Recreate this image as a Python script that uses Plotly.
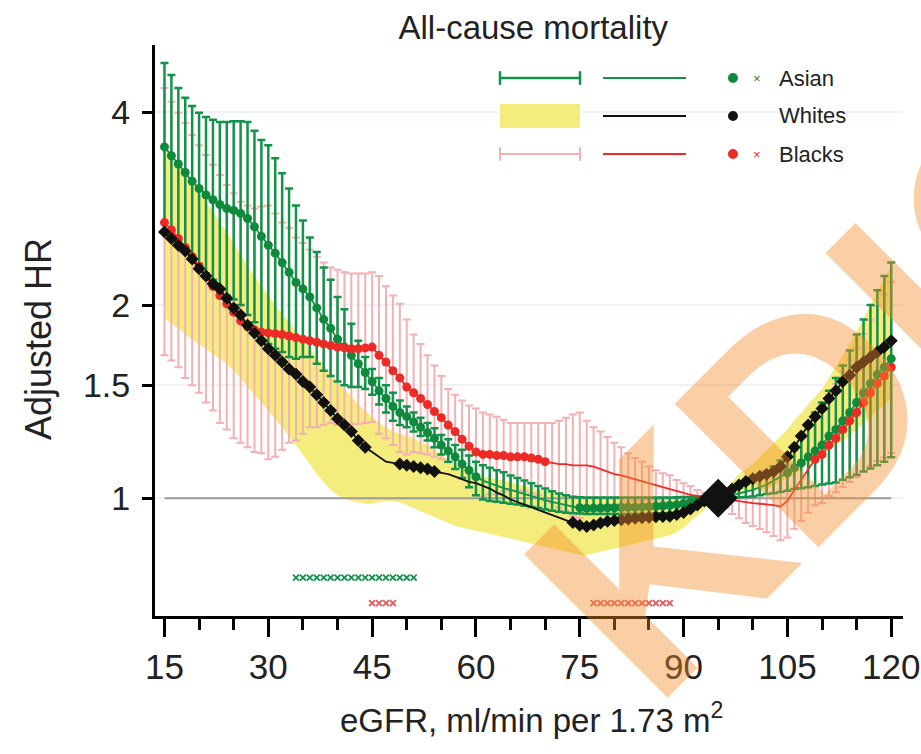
import plotly.graph_objects as go

# eGFR grid (ml/min per 1.73 m2)
EGFR = list(range(15, 121))

# Adjusted hazard ratios with 95% CI, one value per eGFR unit
ASIAN_HR = [
    3.53, 3.42, 3.32, 3.22, 3.12, 3.04, 2.97, 2.92, 2.87, 2.83,
    2.81, 2.78, 2.73, 2.65, 2.56, 2.48, 2.41, 2.33, 2.25, 2.17,
    2.12, 2.06, 1.98, 1.90, 1.84, 1.77, 1.72, 1.67, 1.62, 1.57,
    1.52, 1.47, 1.43, 1.39, 1.36, 1.34, 1.315, 1.29, 1.265, 1.24,
    1.21, 1.185, 1.16, 1.13, 1.105, 1.08, 1.065, 1.055, 1.045, 1.037,
    1.03, 1.022, 1.015, 1.007, 1.0, 0.993, 0.987, 0.981, 0.975, 0.97,
    0.966, 0.964, 0.965, 0.965, 0.966, 0.966, 0.967, 0.968, 0.968, 0.969,
    0.97, 0.971, 0.972, 0.974, 0.976, 0.98, 0.985, 0.99, 0.994, 0.997,
    1.0, 1.005, 1.01, 1.016, 1.022, 1.03, 1.04, 1.05, 1.065, 1.08,
    1.095, 1.115, 1.135, 1.16, 1.185, 1.21, 1.25, 1.28, 1.32, 1.36,
    1.41, 1.46, 1.51, 1.56, 1.60, 1.65,
]
ASIAN_LO = [
    2.61, 2.56, 2.53, 2.46, 2.38, 2.32, 2.24, 2.19, 2.13, 2.07,
    2.04, 2.00, 1.93, 1.88, 1.81, 1.74, 1.71, 1.69, 1.66, 1.65,
    1.66, 1.66, 1.62, 1.58, 1.55, 1.52, 1.50, 1.49, 1.49, 1.48,
    1.45, 1.40, 1.36, 1.32, 1.30, 1.29, 1.27, 1.25, 1.23, 1.20,
    1.17, 1.14, 1.11, 1.075, 1.04, 1.01, 0.995, 0.99, 0.987, 0.984,
    0.98, 0.977, 0.973, 0.969, 0.965, 0.96, 0.956, 0.952, 0.949, 0.947,
    0.946, 0.945, 0.945, 0.945, 0.945, 0.945, 0.945, 0.945, 0.945, 0.945,
    0.945, 0.946, 0.947, 0.948, 0.95, 0.955, 0.962, 0.97, 0.978, 0.99,
    1.0, 1.0, 1.002, 1.003, 1.004, 1.006, 1.01, 1.015, 1.018, 1.022,
    1.027, 1.033, 1.036, 1.04, 1.045, 1.05, 1.054, 1.058, 1.068, 1.078,
    1.088, 1.10, 1.112, 1.125, 1.14, 1.158,
]
ASIAN_HI = [
    4.77, 4.57, 4.36, 4.21, 4.09, 3.99, 3.93, 3.89, 3.86, 3.86,
    3.87, 3.87, 3.86, 3.74, 3.62, 3.55, 3.39, 3.21, 3.04, 2.86,
    2.71, 2.55, 2.42, 2.29, 2.19, 2.06, 1.97, 1.87, 1.76, 1.66,
    1.59, 1.54, 1.50, 1.46, 1.42, 1.39, 1.36, 1.335, 1.31, 1.285,
    1.255, 1.235, 1.21, 1.19, 1.165, 1.14, 1.125, 1.115, 1.105, 1.097,
    1.085, 1.075, 1.065, 1.055, 1.045, 1.035, 1.025, 1.017, 1.01, 1.005,
    1.003, 1.002, 1.002, 1.002, 1.002, 1.002, 1.002, 1.002, 1.002, 1.002,
    1.002, 1.002, 1.002, 1.002, 1.003, 1.004, 1.004, 1.005, 1.005, 1.003,
    1.0, 1.012, 1.022, 1.038, 1.052, 1.068, 1.085, 1.10, 1.12, 1.145,
    1.17, 1.205, 1.25, 1.30, 1.36, 1.41, 1.47, 1.54, 1.61, 1.70,
    1.80, 1.90, 2.00, 2.11, 2.22, 2.33,
]

WHITE_HR = [
    2.60, 2.54, 2.48, 2.43, 2.36, 2.28, 2.22, 2.16, 2.12, 2.05,
    1.98, 1.93, 1.86, 1.81, 1.76, 1.71, 1.67, 1.63, 1.59, 1.56,
    1.52, 1.49, 1.45, 1.41, 1.37, 1.33, 1.30, 1.27, 1.23, 1.20,
    1.18, 1.16, 1.14, 1.135, 1.13, 1.125, 1.12, 1.115, 1.11, 1.10,
    1.095, 1.09, 1.08, 1.07, 1.06, 1.055, 1.045, 1.035, 1.02, 1.01,
    0.995, 0.985, 0.977, 0.968, 0.959, 0.95, 0.942, 0.934, 0.925, 0.916,
    0.907, 0.903, 0.908, 0.915, 0.92, 0.923, 0.925, 0.928, 0.93, 0.932,
    0.934, 0.935, 0.936, 0.937, 0.943, 0.95, 0.962, 0.976, 0.99, 0.996,
    1.0, 1.018, 1.033, 1.048, 1.062, 1.072, 1.082, 1.09, 1.10, 1.12,
    1.16, 1.20, 1.25, 1.30, 1.34, 1.38, 1.43, 1.47, 1.52, 1.555,
    1.60, 1.63, 1.66, 1.69, 1.72, 1.76,
]
WHITE_LO = [
    1.91, 1.87, 1.84, 1.80, 1.77, 1.74, 1.71, 1.68, 1.65, 1.62,
    1.58, 1.54, 1.49, 1.45, 1.41, 1.37, 1.33, 1.29, 1.25, 1.21,
    1.17, 1.13, 1.09, 1.06, 1.03, 1.01, 1.00, 0.99, 0.985, 0.98,
    0.98, 0.985, 0.99, 0.99, 0.985, 0.975, 0.965, 0.955, 0.945, 0.935,
    0.925, 0.915, 0.905, 0.90, 0.895, 0.89, 0.885, 0.88, 0.875, 0.87,
    0.865, 0.86, 0.855, 0.85, 0.845, 0.84, 0.835, 0.83, 0.825, 0.82,
    0.815, 0.815, 0.82, 0.825, 0.83, 0.835, 0.84, 0.845, 0.85, 0.855,
    0.86, 0.865, 0.87, 0.875, 0.885, 0.90, 0.92, 0.94, 0.96, 0.98,
    1.0, 1.005, 1.01, 1.015, 1.02, 1.025, 1.03, 1.035, 1.045, 1.06,
    1.075, 1.09, 1.11, 1.13, 1.15, 1.17, 1.19, 1.21, 1.23, 1.25,
    1.28, 1.31, 1.34, 1.37, 1.40, 1.43,
]
WHITE_HI = [
    3.49, 3.40, 3.30, 3.20, 3.10, 3.00, 2.90, 2.80, 2.70, 2.60,
    2.50, 2.40, 2.30, 2.22, 2.14, 2.07, 2.00, 1.94, 1.88, 1.82,
    1.76, 1.71, 1.66, 1.61, 1.56, 1.52, 1.48, 1.44, 1.40, 1.37,
    1.34, 1.31, 1.29, 1.27, 1.26, 1.25, 1.24, 1.22, 1.21, 1.19,
    1.17, 1.15, 1.13, 1.12, 1.10, 1.09, 1.08, 1.075, 1.07, 1.065,
    1.06, 1.05, 1.045, 1.04, 1.03, 1.025, 1.02, 1.015, 1.01, 1.005,
    1.00, 0.995, 1.00, 1.00, 1.00, 1.00, 1.00, 1.00, 1.00, 1.00,
    1.00, 1.00, 1.00, 1.00, 1.00, 1.00, 1.005, 1.01, 1.01, 1.01,
    1.00, 1.03, 1.06, 1.09, 1.11, 1.13, 1.16, 1.19, 1.22, 1.25,
    1.28, 1.32, 1.36, 1.40, 1.44, 1.48, 1.54, 1.60, 1.67, 1.74,
    1.82, 1.91, 2.00, 2.10, 2.20, 2.30,
]

BLACK_HR = [
    2.69, 2.62, 2.54, 2.46, 2.38, 2.30, 2.22, 2.14, 2.07, 2.01,
    1.95, 1.89, 1.85, 1.83, 1.815, 1.81, 1.805, 1.80, 1.79, 1.78,
    1.77, 1.76, 1.75, 1.74, 1.73, 1.72, 1.715, 1.71, 1.71, 1.715,
    1.72, 1.67, 1.63, 1.58, 1.54, 1.49, 1.46, 1.43, 1.40, 1.365,
    1.335, 1.30, 1.27, 1.235, 1.205, 1.18, 1.17, 1.17, 1.165, 1.165,
    1.16, 1.16, 1.16, 1.155, 1.15, 1.14, 1.135, 1.13, 1.13, 1.125,
    1.125, 1.125, 1.12, 1.11, 1.10, 1.09, 1.085, 1.078, 1.07, 1.063,
    1.055, 1.048, 1.04, 1.033, 1.025, 1.018, 1.012, 1.008, 1.004, 1.002,
    1.0, 0.996, 0.992, 0.988, 0.985, 0.982, 0.98, 0.978, 0.975, 0.97,
    0.99, 1.03, 1.07, 1.11, 1.15, 1.17, 1.21, 1.24, 1.28, 1.32,
    1.36, 1.41, 1.46, 1.51, 1.55, 1.60,
]
BLACK_LO = [
    1.67, 1.64, 1.60, 1.54, 1.50, 1.46, 1.41, 1.37, 1.31, 1.28,
    1.24, 1.22, 1.20, 1.18, 1.175, 1.15, 1.16, 1.19, 1.22, 1.23,
    1.26, 1.29, 1.29, 1.30, 1.31, 1.30, 1.31, 1.305, 1.305, 1.31,
    1.315, 1.26, 1.24, 1.21, 1.18, 1.17, 1.18, 1.175, 1.17, 1.16,
    1.15, 1.14, 1.11, 1.075, 1.04, 1.01, 1.006, 1.014, 1.013, 1.024,
    1.027, 1.027, 1.027, 1.018, 1.01, 0.992, 0.983, 0.967, 0.956, 0.937,
    0.931, 0.959, 0.972, 0.970, 0.972, 0.974, 0.981, 0.989, 0.991, 0.991,
    0.994, 0.994, 0.989, 0.983, 0.985, 0.989, 0.988, 0.987, 0.988, 0.994,
    1.0, 0.965, 0.945, 0.93, 0.915, 0.905, 0.895, 0.885, 0.873, 0.86,
    0.868, 0.896, 0.922, 0.949, 0.975, 0.983, 1.008, 1.021, 1.041, 1.06,
    1.079, 1.102, 1.123, 1.144, 1.157, 1.176,
]
BLACK_HI = [
    4.36, 4.15, 3.99, 3.85, 3.68, 3.55, 3.43, 3.31, 3.19, 3.08,
    2.99, 2.90, 2.86, 2.83, 2.85, 2.86, 2.78, 2.69, 2.64, 2.55,
    2.50, 2.44, 2.38, 2.33, 2.29, 2.27, 2.25, 2.24, 2.24, 2.24,
    2.25, 2.22, 2.14, 2.07, 2.01, 1.90, 1.80, 1.74, 1.67, 1.61,
    1.55, 1.48, 1.45, 1.42, 1.395, 1.38, 1.36, 1.35, 1.34, 1.325,
    1.31, 1.31, 1.31, 1.31, 1.31, 1.31, 1.31, 1.32, 1.335, 1.35,
    1.36, 1.32, 1.29, 1.27, 1.245, 1.22, 1.20, 1.175, 1.155, 1.14,
    1.12, 1.105, 1.094, 1.086, 1.067, 1.055, 1.045, 1.03, 1.02, 1.01,
    1.0, 1.028, 1.041, 1.05, 1.06, 1.066, 1.073, 1.081, 1.089, 1.094,
    1.129, 1.185, 1.241, 1.299, 1.357, 1.392, 1.452, 1.507, 1.574, 1.643,
    1.714, 1.805, 1.898, 1.993, 2.077, 2.176,
]

# eGFR values where each estimate is drawn with a dot
ASIAN_DOTS = list(range(15, 61)) + list(range(75, 93)) + list(range(105, 121))
WHITE_DOTS = list(range(15, 45)) + list(range(49, 55)) + list(range(74, 121))
BLACK_DOTS = list(range(15, 71)) + list(range(109, 121))

# eGFR values flagged as different from Whites
ASIAN_SIG = list(range(34, 52))
BLACK_SIG = [45, 46, 47, 48] + list(range(77, 89))

# Reference category
REF_EGFR, REF_HR = 95, 1.0

X_TICKS = [15, 30, 45, 60, 75, 90, 105, 120]
Y_TICKS = [1, 1.5, 2, 4]
Y_TICK_TEXT = ["1", "1.5", "2", "4"]

for arr in (ASIAN_HR, ASIAN_LO, ASIAN_HI, WHITE_HR, WHITE_LO, WHITE_HI,
            BLACK_HR, BLACK_LO, BLACK_HI):
    assert len(arr) == len(EGFR)

GREEN = "#13934a"
GREEN_DOT = "#0f8a3c"
PINK = "#f4b0b3"
RED = "#ec2b26"
BLACK = "#111111"
YELLOW = "rgb(244,236,125)"
FONT = "Liberation Sans, Arial, Helvetica, sans-serif"


def pick(series, keep):
    xs = [e for e in EGFR if e in keep]
    ys = [series[EGFR.index(e)] for e in xs]
    return xs, ys


fig = go.Figure()

# Whites: confidence band
fig.add_trace(go.Scatter(
    x=EGFR + EGFR[::-1], y=WHITE_HI + WHITE_LO[::-1],
    fill="toself", fillcolor=YELLOW, line=dict(width=0),
    mode="lines", hoverinfo="skip", showlegend=False))

# Blacks: confidence intervals
fig.add_trace(go.Scatter(
    x=EGFR, y=BLACK_HR, mode="markers",
    marker=dict(size=1, color="rgba(0,0,0,0)"),
    error_y=dict(type="data", symmetric=False,
                 array=[h - p for h, p in zip(BLACK_HI, BLACK_HR)],
                 arrayminus=[p - l for p, l in zip(BLACK_HR, BLACK_LO)],
                 color=PINK, thickness=2, width=4),
    showlegend=False))

# HR = 1 reference line
fig.add_trace(go.Scatter(
    x=[EGFR[0], EGFR[-1]], y=[REF_HR, REF_HR], mode="lines",
    line=dict(color="#9c9c9c", width=2), showlegend=False))

# Asian: confidence intervals
fig.add_trace(go.Scatter(
    x=EGFR, y=ASIAN_HR, mode="markers",
    marker=dict(size=1, color="rgba(0,0,0,0)"),
    error_y=dict(type="data", symmetric=False,
                 array=[h - p for h, p in zip(ASIAN_HI, ASIAN_HR)],
                 arrayminus=[p - l for p, l in zip(ASIAN_HR, ASIAN_LO)],
                 color=GREEN, thickness=2.5, width=4),
    showlegend=False))

# Estimate lines and dots
for series, dots, lcol, dcol, sym, size in (
        (ASIAN_HR, ASIAN_DOTS, GREEN, GREEN_DOT, "circle", 9),
        (BLACK_HR, BLACK_DOTS, RED, RED, "circle", 9),
        (WHITE_HR, WHITE_DOTS, BLACK, BLACK, "diamond", 10)):
    fig.add_trace(go.Scatter(x=EGFR, y=series, mode="lines",
                             line=dict(color=lcol, width=1.8),
                             showlegend=False))
    dx, dy = pick(series, dots)
    fig.add_trace(go.Scatter(x=dx, y=dy, mode="markers",
                             marker=dict(color=dcol, size=size, symbol=sym,
                                         line=dict(width=0)),
                             showlegend=False))

# Reference point
fig.add_trace(go.Scatter(x=[REF_EGFR], y=[REF_HR], mode="markers",
                         marker=dict(symbol="diamond", size=30, color=BLACK),
                         showlegend=False))

# Significance marks along the bottom
ASIAN_SIG_LEVEL, BLACK_SIG_LEVEL = 0.752, 0.686
fig.add_trace(go.Scatter(x=ASIAN_SIG, y=[ASIAN_SIG_LEVEL] * len(ASIAN_SIG),
                         mode="markers",
                         marker=dict(symbol="x-thin", size=6, color=GREEN,
                                     line=dict(width=1.8, color=GREEN)),
                         showlegend=False))
fig.add_trace(go.Scatter(x=BLACK_SIG, y=[BLACK_SIG_LEVEL] * len(BLACK_SIG),
                         mode="markers",
                         marker=dict(symbol="x-thin", size=6, color="#e8575a",
                                     line=dict(width=1.8, color="#e8575a")),
                         showlegend=False))

# Hand-built legend (paper coordinates)
shapes = []
annotations = []
rows = [(0.9422, "Asian", "bar", GREEN, GREEN, GREEN_DOT, True),
        (0.8757, "Whites", "band", None, BLACK, BLACK, False),
        (0.8091, "Blacks", "bar", PINK, RED, RED, True)]
x_a, x_b, x_c, x_d = 0.4612, 0.5682, 0.5989, 0.7099
for y, name, kind, ccol, lcol, dcol, cross in rows:
    if kind == "bar":
        w = 2.5 if ccol == GREEN else 2
        shapes.append(dict(type="line", xref="paper", yref="paper",
                           x0=x_a, x1=x_b, y0=y, y1=y,
                           line=dict(color=ccol, width=w)))
        for xe in (x_a, x_b):
            shapes.append(dict(type="line", xref="paper", yref="paper",
                               x0=xe, x1=xe, y0=y - 0.012, y1=y + 0.012,
                               line=dict(color=ccol, width=w)))
    else:
        shapes.append(dict(type="rect", xref="paper", yref="paper",
                           x0=x_a, x1=x_b, y0=y - 0.021, y1=y + 0.021,
                           fillcolor=YELLOW, line=dict(width=0)))
    shapes.append(dict(type="line", xref="paper", yref="paper",
                       x0=x_c, x1=x_d, y0=y, y1=y,
                       line=dict(color=lcol, width=2.2)))
    shapes.append(dict(type="circle", xref="paper", yref="paper",
                       xsizemode="pixel", ysizemode="pixel",
                       xanchor=0.7727, yanchor=y, x0=-5, x1=5,
                       y0=-5, y1=5, fillcolor=dcol,
                       line=dict(width=0)))
    if cross:
        annotations.append(dict(xref="paper", yref="paper", x=0.8048, y=y,
                                text="×", showarrow=False,
                                font=dict(size=13, color=dcol, family=FONT),
                                xanchor="center", yanchor="middle"))
    annotations.append(dict(xref="paper", yref="paper", x=0.8316, y=y,
                            text=name, showarrow=False,
                            font=dict(size=22, color="#222222", family=FONT),
                            xanchor="left", yanchor="middle"))

# Axis titles
annotations.append(dict(xref="paper", yref="paper", x=-0.1564, y=0.485,
                        text="Adjusted HR", textangle=-90, showarrow=False,
                        font=dict(size=36, color="#222222", family=FONT),
                        xanchor="center", yanchor="middle"))
annotations.append(dict(xref="paper", yref="paper", x=0.504, y=-0.178,
                        text="eGFR, ml/min per 1.73 m<sup>2</sup>",
                        showarrow=False,
                        font=dict(size=33, color="#222222", family=FONT),
                        xanchor="center", yanchor="middle"))

# Publisher watermark across the lower right
annotations.append(dict(xref="paper", yref="paper", x=1.027, y=0.557,
                        text="<b>KDIGO</b>", textangle=-45, showarrow=False,
                        font=dict(size=295, color="rgba(245,140,40,0.42)",
                                  family=FONT),
                        xanchor="center", yanchor="middle"))

fig.update_layout(
    width=921, height=754,
    margin=dict(l=155, r=18, t=45, b=138, autoexpand=False),
    paper_bgcolor="white", plot_bgcolor="white",
    title=dict(text="All-cause mortality", x=0.579, xanchor="center",
               y=0.963, yanchor="middle",
               font=dict(size=33, color="#222222", family=FONT)),
    shapes=shapes, annotations=annotations,
    showlegend=False,
)
fig.update_xaxes(
    range=[13.63, 121.7], tickvals=X_TICKS, ticks="outside",
    ticklen=18, tickwidth=3, tickcolor="black",
    minor=dict(dtick=5, tick0=15, ticks="outside", ticklen=11,
               tickwidth=3, tickcolor="black", showgrid=False),
    showline=True, linewidth=3, linecolor="black", automargin=False,
    showgrid=False, zeroline=False, ticklabelstandoff=0,
    tickfont=dict(size=35, color="#222222", family=FONT))
fig.update_yaxes(
    type="log", range=[-0.1838, 0.7067],
    tickvals=Y_TICKS, ticktext=Y_TICK_TEXT, ticks="outside",
    ticklen=10, tickwidth=3, tickcolor="black", automargin=False,
    showline=True, linewidth=3, linecolor="black",
    showgrid=True, gridcolor="#eef2f6", gridwidth=1.5, zeroline=False,
    ticklabelstandoff=5,
    tickfont=dict(size=34, color="#222222", family=FONT))

fig.write_html("out.html")
